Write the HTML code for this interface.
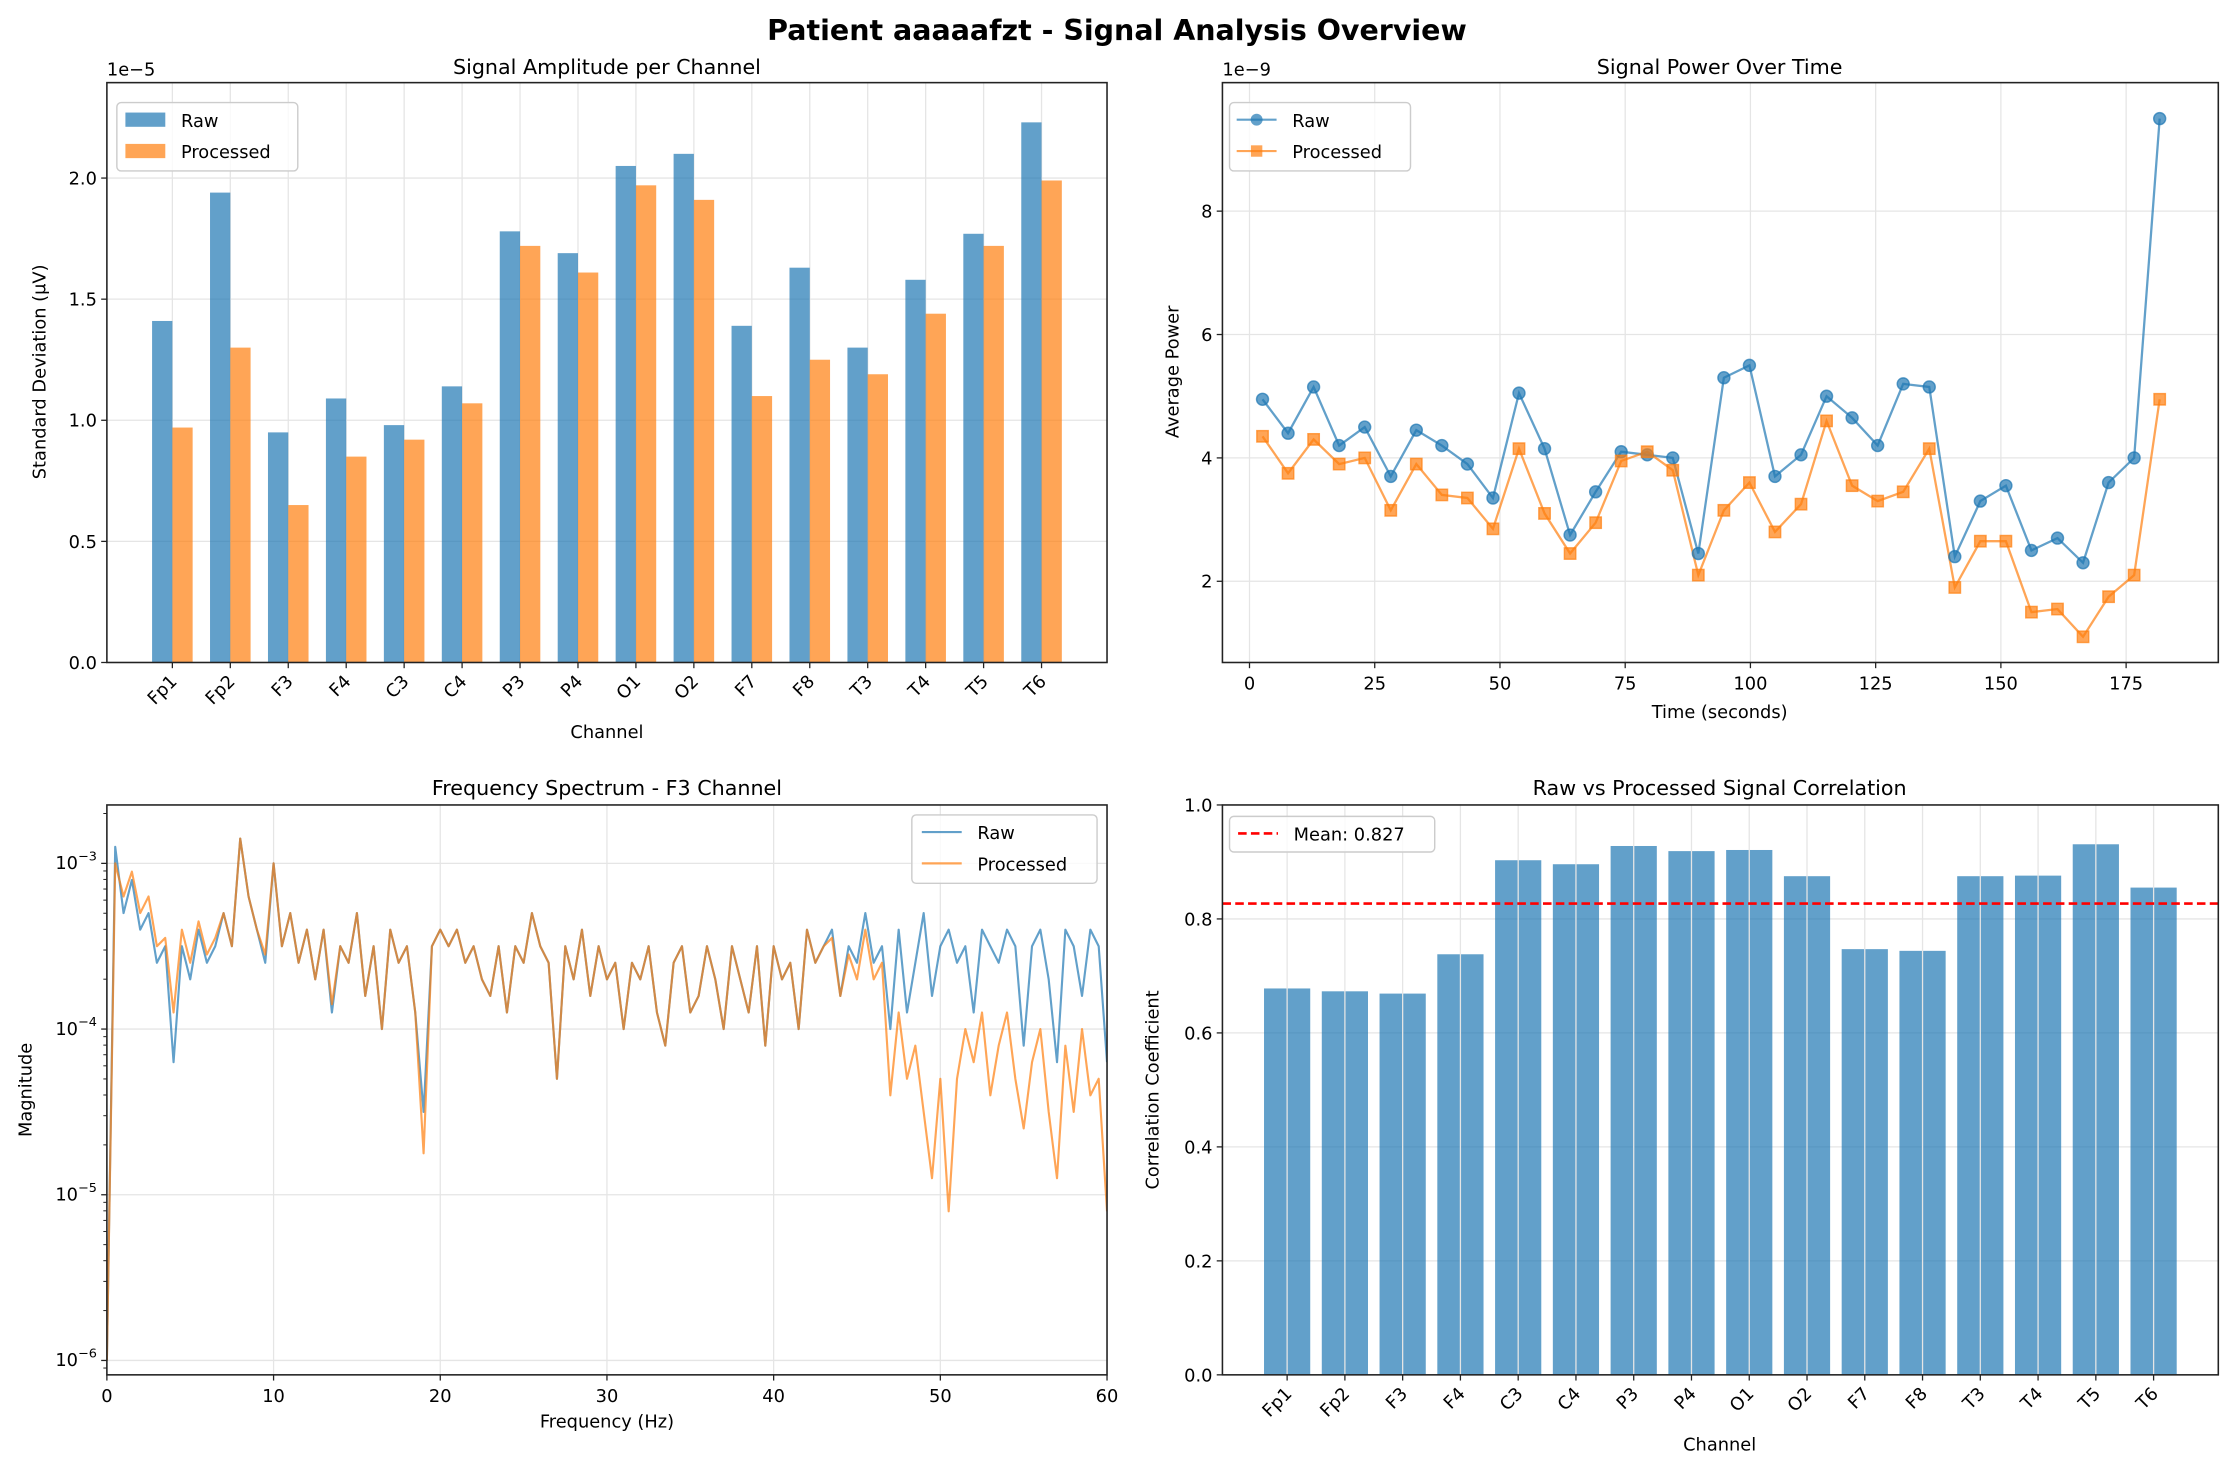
<!DOCTYPE html>
<html><head><meta charset="utf-8"><title>Patient aaaaafzt - Signal Analysis Overview</title>
<style>
html,body{margin:0;padding:0;background:#fff;}
svg{display:block;font-family:"DejaVu Sans","Liberation Sans",sans-serif;}
</style></head>
<body>
<svg id="fig" width="2234" height="1475" viewBox="0 0 1568 1035.3" xmlns="http://www.w3.org/2000/svg">
<rect x="0" y="0" width="1568" height="1036" fill="#fff"/>
<text x="784" y="28" text-anchor="middle" font-size="20" font-weight="bold">Patient aaaaafzt - Signal Analysis Overview</text>
</svg>
<script>
const channels = ["Fp1","Fp2","F3","F4","C3","C4","P3","P4","O1","O2","F7","F8","T3","T4","T5","T6"];
const ampRaw = [1.41,1.94,0.95,1.09,0.98,1.14,1.78,1.69,2.05,2.10,1.39,1.63,1.30,1.58,1.77,2.23];
const ampProc = [0.97,1.30,0.65,0.85,0.92,1.07,1.72,1.61,1.97,1.91,1.10,1.25,1.19,1.44,1.72,1.99];
const ampTicks = ["0.0","0.5","1.0","1.5","2.0"];
const powTime = [2.6,7.7,12.8,17.9,23.0,28.2,33.3,38.4,43.5,48.6,53.8,58.9,64.0,69.1,74.2,79.4,84.5,89.6,94.7,99.8,104.9,110.1,115.2,120.3,125.4,130.5,135.7,140.8,145.9,151.0,156.1,161.3,166.4,171.5,176.6,181.7];
const powRaw = [4.95,4.4,5.15,4.2,4.5,3.7,4.45,4.2,3.9,3.35,5.05,4.15,2.75,3.45,4.1,4.05,4.0,2.45,5.3,5.5,3.7,4.05,5.0,4.65,4.2,5.2,5.15,2.4,3.3,3.55,2.5,2.7,2.3,3.6,4.0,9.5];
const powProc = [4.35,3.75,4.3,3.9,4.0,3.15,3.9,3.4,3.35,2.85,4.15,3.1,2.45,2.95,3.95,4.1,3.8,2.1,3.15,3.6,2.8,3.25,4.6,3.55,3.3,3.45,4.15,1.9,2.65,2.65,1.5,1.55,1.1,1.75,2.1,4.95];
const powTicksX = [0,25,50,75,100,125,150,175];
const powTicksY = [2,4,6,8];
const specRawLog = [-6.0,-2.9,-3.3,-3.1,-3.4,-3.3,-3.6,-3.5,-4.2,-3.5,-3.7,-3.4,-3.6,-3.5,-3.3,-3.5,-2.85,-3.2,-3.4,-3.6,-3.0,-3.5,-3.3,-3.6,-3.4,-3.7,-3.4,-3.9,-3.5,-3.6,-3.3,-3.8,-3.5,-4.0,-3.4,-3.6,-3.5,-3.9,-4.5,-3.5,-3.4,-3.5,-3.4,-3.6,-3.5,-3.7,-3.8,-3.5,-3.9,-3.5,-3.6,-3.3,-3.5,-3.6,-4.3,-3.5,-3.7,-3.4,-3.8,-3.5,-3.7,-3.6,-4.0,-3.6,-3.7,-3.5,-3.9,-4.1,-3.6,-3.5,-3.9,-3.8,-3.5,-3.7,-4.0,-3.5,-3.7,-3.9,-3.5,-4.1,-3.5,-3.7,-3.6,-4.0,-3.4,-3.6,-3.5,-3.4,-3.8,-3.5,-3.6,-3.3,-3.6,-3.5,-4.0,-3.4,-3.9,-3.6,-3.3,-3.8,-3.5,-3.4,-3.6,-3.5,-3.9,-3.4,-3.5,-3.6,-3.4,-3.5,-4.1,-3.5,-3.4,-3.7,-4.2,-3.4,-3.5,-3.8,-3.4,-3.5,-4.2];
const specProcLog = [-6.0,-3.0,-3.2,-3.05,-3.3,-3.2,-3.5,-3.45,-3.9,-3.4,-3.6,-3.35,-3.55,-3.45,-3.3,-3.5,-2.85,-3.2,-3.4,-3.55,-3.0,-3.5,-3.3,-3.6,-3.4,-3.7,-3.4,-3.85,-3.5,-3.6,-3.3,-3.8,-3.5,-4.0,-3.4,-3.6,-3.5,-3.9,-4.75,-3.5,-3.4,-3.5,-3.4,-3.6,-3.5,-3.7,-3.8,-3.5,-3.9,-3.5,-3.6,-3.3,-3.5,-3.6,-4.3,-3.5,-3.7,-3.4,-3.8,-3.5,-3.7,-3.6,-4.0,-3.6,-3.7,-3.5,-3.9,-4.1,-3.6,-3.5,-3.9,-3.8,-3.5,-3.7,-4.0,-3.5,-3.7,-3.9,-3.5,-4.1,-3.5,-3.7,-3.6,-4.0,-3.4,-3.6,-3.5,-3.45,-3.8,-3.55,-3.7,-3.4,-3.7,-3.6,-4.4,-3.9,-4.3,-4.1,-4.5,-4.9,-4.3,-5.1,-4.3,-4.0,-4.2,-3.9,-4.4,-4.1,-3.9,-4.3,-4.6,-4.2,-4.0,-4.5,-4.9,-4.1,-4.5,-4.0,-4.4,-4.3,-5.1];
const specTicksX = [0,10,20,30,40,50,60];
const specTicksY = [-6,-5,-4,-3];
const corrVals = [0.678,0.673,0.669,0.738,0.903,0.896,0.928,0.919,0.921,0.875,0.747,0.744,0.875,0.876,0.931,0.855];
const corrMean = [0.827];
const corrTicks = ["0.0","0.2","0.4","0.6","0.8","1.0"];

const NS="http://www.w3.org/2000/svg";
const svg=document.getElementById('fig');
const BLUE="#1f77b4", ORANGE="#ff7f0e";
const FS=12.5, TFS=14.5;
function mk(tag,attrs,parent,text){const e=document.createElementNS(NS,tag);for(const k in attrs)e.setAttribute(k,attrs[k]);if(text!==undefined)e.textContent=text;(parent||svg).appendChild(e);return e;}
function grp(name){const g=mk('g',{});return g;}

function frame(g,L,T,R,B){
  const f=mk('rect',{x:L,y:T,width:R-L,height:B-T,fill:'none',stroke:'#222','stroke-width':1.1},g);
  
  
}
function gridV(g,x,T,B){mk('line',{x1:x,x2:x,y1:T,y2:B,stroke:'#e5e5e5','stroke-width':0.9},g);}
function gridH(g,y,L,R){mk('line',{x1:L,x2:R,y1:y,y2:y,stroke:'#e5e5e5','stroke-width':0.9},g);}
function yTick(g,L,y,label){mk('line',{x1:L-4,x2:L,y1:y,y2:y,stroke:'#222','stroke-width':0.9},g);
  const t=mk('text',{x:L-7,y:y+4.5,'text-anchor':'end','font-size':FS},g,label);
  
  }
function xTick(g,x,B,label){mk('line',{x1:x,x2:x,y1:B,y2:B+4,stroke:'#222','stroke-width':0.9},g);
  const t=mk('text',{x:x,y:B+19,'text-anchor':'middle','font-size':FS},g,label);
  
  }
function xTickRot(g,x,B,label){mk('line',{x1:x,x2:x,y1:B,y2:B+4,stroke:'#222','stroke-width':0.9},g);
  const t=mk('text',{x:0,y:0,'text-anchor':'end','font-size':FS,transform:`translate(${x+4},${B+14}) rotate(-45)`},g,label);
  
  }
function label(g,x,y,txt,name,rot,size){const a={x:x,y:y,'text-anchor':'middle','font-size':size||FS};if(rot)a.transform=`rotate(-90 ${x} ${y})`;
  const t=mk('text',a,g,txt);
  
  return t;}
function legendBox(g,x,y,w,h){const r=mk('rect',{x:x,y:y,width:w,height:h,rx:3,fill:'#fff','fill-opacity':0.8,stroke:'#ccc','stroke-width':1},g);
  
  }

// ---------- Panel 1: amplitude bars ----------
(function(){
  const g=grp('amplitude-panel');
  const L=75,R=777,T=58,B=465;
  const n=channels.length, xmin=-0.5-0.63, xmax=n-0.5+0.63;
  const X=v=>L+(v-xmin)/(xmax-xmin)*(R-L);
  const Y=v=>B-v/2.394*(B-T);
  channels.forEach((c,i)=>gridV(g,X(i),T,B));
  ampTicks.forEach(t=>gridH(g,Y(+t),L,R));
  const bw=0.35;
  channels.forEach((c,i)=>{
    const r1=mk('rect',{x:X(i-bw),y:Y(ampRaw[i]),width:X(i)-X(i-bw),height:B-Y(ampRaw[i]),fill:BLUE,'fill-opacity':0.7},g);
    
    
    const r2=mk('rect',{x:X(i),y:Y(ampProc[i]),width:X(i+bw)-X(i),height:B-Y(ampProc[i]),fill:ORANGE,'fill-opacity':0.7},g);
    
    
  });
  frame(g,L,T,R,B);
  ampTicks.forEach(t=>yTick(g,L,Y(+t),t));
  channels.forEach((c,i)=>xTickRot(g,X(i),B,c));
  label(g,426,52,'Signal Amplitude per Channel','panel-title',false,TFS);
  const o=mk('text',{x:L,y:53,'font-size':FS},g,'1e\u22125');
  label(g,32,261,'Standard Deviation (\u03bcV)','y-axis-title',true);
  label(g,426,518,'Channel','x-axis-title');
  legendBox(g,82,72,127,48);
  mk('rect',{x:88,y:79,width:28,height:10,fill:BLUE,'fill-opacity':0.7},g);
  mk('rect',{x:88,y:101,width:28,height:10,fill:ORANGE,'fill-opacity':0.7},g);
  const a=mk('text',{x:127,y:89,'font-size':FS},g,'Raw');
  const b=mk('text',{x:127,y:111,'font-size':FS},g,'Processed');
})();

// ---------- Panel 2: power over time ----------
(function(){
  const g=grp('power-panel');
  const L=858,R=1557,T=58,B=465;
  const X=v=>877+v*(87.9/25);
  const Y=v=>494.6-v*43.3;
  powTicksX.forEach(t=>gridV(g,X(t),T,B));
  powTicksY.forEach(t=>gridH(g,Y(t),L,R));
  const line=(arr,col,name)=>{const p=mk('polyline',{points:arr.map((v,i)=>X(powTime[i])+','+Y(v)).join(' '),fill:'none',stroke:col,'stroke-width':1.6,'stroke-opacity':0.7},g);
    };
  line(powRaw,BLUE,'raw-power-line');
  line(powProc,ORANGE,'processed-power-line');
  powRaw.forEach((v,i)=>{const c=mk('circle',{cx:X(powTime[i]),cy:Y(v),r:4.2,fill:BLUE,'fill-opacity':0.7,stroke:BLUE,'stroke-opacity':0.7},g);
    });
  powProc.forEach((v,i)=>{const c=mk('rect',{x:X(powTime[i])-4,y:Y(v)-4,width:8,height:8,fill:ORANGE,'fill-opacity':0.7,stroke:ORANGE,'stroke-opacity':0.7},g);
    });
  frame(g,L,T,R,B);
  powTicksY.forEach(t=>yTick(g,L,Y(t),String(t)));
  powTicksX.forEach(t=>xTick(g,X(t),B,String(t)));
  label(g,1207,52,'Signal Power Over Time','panel-title',false,TFS);
  const o=mk('text',{x:L,y:53,'font-size':FS},g,'1e\u22129');
  label(g,827,261,'Average Power','y-axis-title',true);
  label(g,1207,504,'Time (seconds)','x-axis-title');
  legendBox(g,863,72,127,48);
  mk('line',{x1:868,x2:896,y1:84,y2:84,stroke:BLUE,'stroke-width':1.5,'stroke-opacity':0.7},g);
  mk('circle',{cx:882,cy:84,r:4.2,fill:BLUE,'fill-opacity':0.7},g);
  mk('line',{x1:868,x2:896,y1:106,y2:106,stroke:ORANGE,'stroke-width':1.5,'stroke-opacity':0.7},g);
  mk('rect',{x:878,y:102,width:8,height:8,fill:ORANGE,'fill-opacity':0.7},g);
  const a=mk('text',{x:907,y:89,'font-size':FS},g,'Raw');
  const b=mk('text',{x:907,y:111,'font-size':FS},g,'Processed');
})();

// ---------- Panel 3: spectrum ----------
(function(){
  const g=grp('spectrum-panel');
  const L=75,R=777,T=565,B=965;
  const X=v=>L+v/60*(R-L);
  const Y=lv=>606-(lv+3)*116.3;
  specTicksX.forEach(t=>gridV(g,X(t),T,B));
  specTicksY.forEach(t=>gridH(g,Y(t),L,R));
  const cp=mk('clipPath',{id:'specclip'},g);mk('rect',{x:L,y:T,width:R-L,height:B-T},cp);
  const line=(arr,col,name)=>{const p=mk('polyline',{points:arr.map((v,i)=>X(i*0.5)+','+Y(v)).join(' '),fill:'none',stroke:col,'stroke-width':1.5,'stroke-opacity':0.7,'stroke-linejoin':'round','clip-path':'url(#specclip)'},g);
    };
  line(specRawLog,BLUE,'raw-spectrum-line');
  line(specProcLog,ORANGE,'processed-spectrum-line');
  frame(g,L,T,R,B);
  specTicksY.forEach(t=>{
    mk('line',{x1:L-4,x2:L,y1:Y(t),y2:Y(t),stroke:'#222','stroke-width':0.9},g);
    const tx=mk('text',{x:L-7,y:Y(t)+4,'text-anchor':'end','font-size':FS},g);
    
    tx.appendChild(document.createTextNode('10'));
    mk('tspan',{dy:-6,'font-size':9},tx,'\u2212'+Math.abs(t));
  });
  for(let d=-7;d<=-3;d++){for(let m=2;m<=9;m++){const y=Y(d+Math.log10(m));if(y>T&&y<B)mk('line',{x1:L-2.5,x2:L,y1:y,y2:y,stroke:'#222','stroke-width':0.7},g);}}
  specTicksX.forEach(t=>xTick(g,X(t),B,String(t)));
  label(g,426,558,'Frequency Spectrum - F3 Channel','panel-title',false,TFS);
  label(g,22,765,'Magnitude','y-axis-title',true);
  label(g,426,1002,'Frequency (Hz)','x-axis-title');
  legendBox(g,640,572,130,48);
  mk('line',{x1:647,x2:675,y1:584,y2:584,stroke:BLUE,'stroke-width':1.5,'stroke-opacity':0.7},g);
  mk('line',{x1:647,x2:675,y1:606,y2:606,stroke:ORANGE,'stroke-width':1.5,'stroke-opacity':0.7},g);
  const a=mk('text',{x:686,y:589,'font-size':FS},g,'Raw');
  const b=mk('text',{x:686,y:611,'font-size':FS},g,'Processed');
})();

// ---------- Panel 4: correlation ----------
(function(){
  const g=grp('correlation-panel');
  const L=858,R=1557,T=565,B=965;
  const n=channels.length, xmin=-0.5-0.62, xmax=n-0.5+0.62;
  const X=v=>L+(v-xmin)/(xmax-xmin)*(R-L);
  const Y=v=>B-v*(B-T);
  corrTicks.forEach(t=>gridH(g,Y(+t),L,R));
  channels.forEach((c,i)=>{
    const r=mk('rect',{x:X(i-0.4),y:Y(corrVals[i]),width:X(i+0.4)-X(i-0.4),height:B-Y(corrVals[i]),fill:BLUE,'fill-opacity':0.7},g);
    
    
  });
  channels.forEach((c,i)=>gridV(g,X(i),T,B));
  const ml=mk('line',{x1:L,x2:R,y1:Y(corrMean[0]),y2:Y(corrMean[0]),stroke:'#ff0000','stroke-width':1.8,'stroke-dasharray':'6,3'},g);
  
  
  frame(g,L,T,R,B);
  corrTicks.forEach(t=>yTick(g,L,Y(+t),t));
  channels.forEach((c,i)=>xTickRot(g,X(i),B,c));
  label(g,1207,558,'Raw vs Processed Signal Correlation','panel-title',false,TFS);
  label(g,813,765,'Correlation Coefficient','y-axis-title',true);
  label(g,1207,1018,'Channel','x-axis-title');
  legendBox(g,863,573,144,25);
  mk('line',{x1:869,x2:897,y1:585,y2:585,stroke:'#ff0000','stroke-width':1.8,'stroke-dasharray':'6,3'},g);
  const a=mk('text',{x:908,y:590,'font-size':FS},g,'Mean: '+corrMean[0].toFixed(3));
})();
</script>
</body></html>
